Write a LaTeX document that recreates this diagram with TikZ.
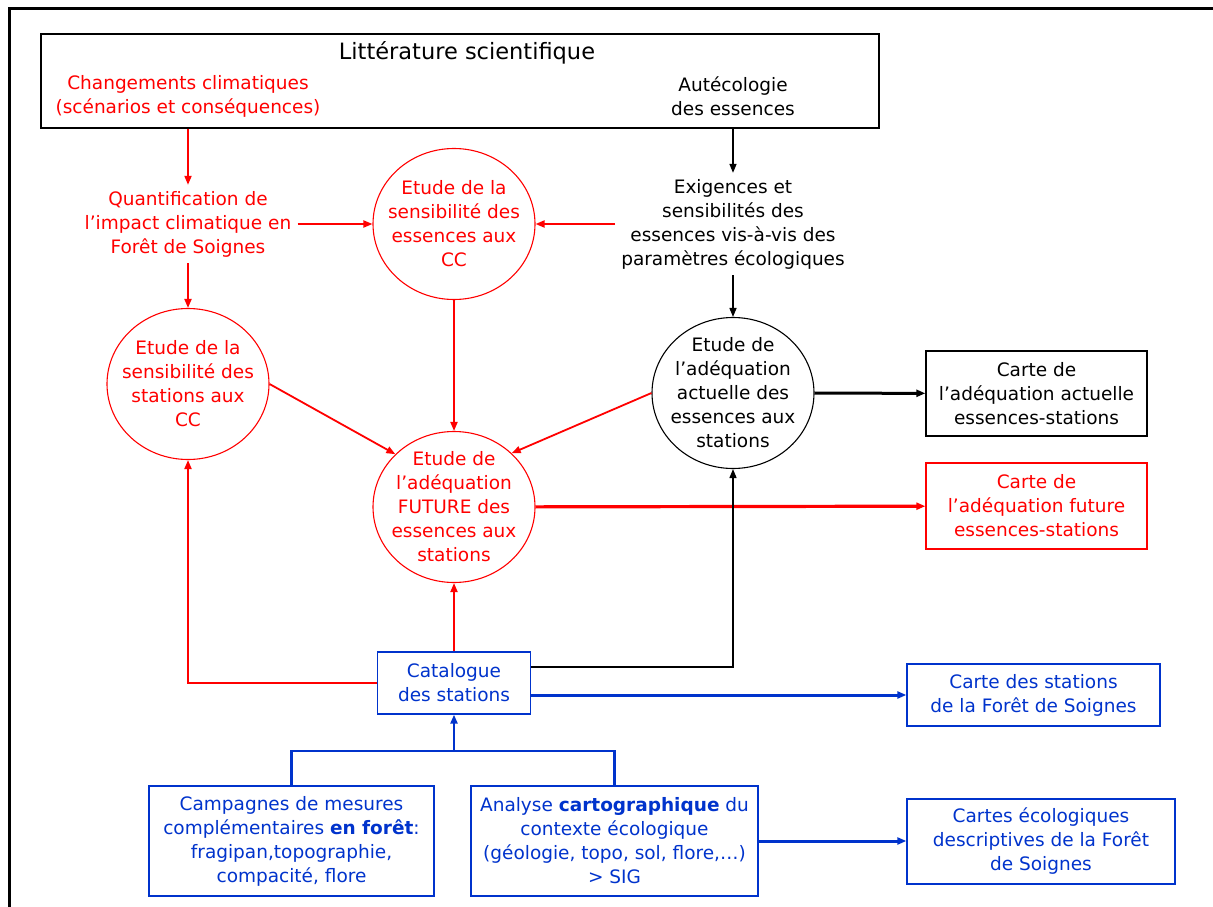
\documentclass[tikz,border=0pt]{standalone}
\usepackage{fontspec}
\setmainfont{DejaVu Sans}
\usetikzlibrary{arrows.meta,shapes.geometric}
\definecolor{cred}{RGB}{255,0,0}
\definecolor{cblue}{RGB}{0,51,204}
\begin{document}
\begin{tikzpicture}[x=1pt,y=-1pt,
  txt/.style={font=\fontsize{18.5}{24}\selectfont, align=center, inner sep=6pt},
  ttl/.style={font=\fontsize{22.5}{26}\selectfont, inner sep=0pt},
  boxk/.style={txt, draw=black, line width=1.3pt, rectangle},
  circ/.style={shape=ellipse, draw, line width=1.1pt, minimum width=162pt, minimum height=151pt, inner sep=0pt},
  tip/.style={-{Triangle[length=9pt,width=7pt]}},
  rarr/.style={tip, draw=cred, line width=1.8pt},
  karr/.style={tip, draw=black, line width=1.5pt},
  rthick/.style={tip, draw=cred, line width=3.2pt},
  kthick/.style={tip, draw=black, line width=3pt},
  bthick/.style={tip, draw=cblue, line width=3pt},
  bline/.style={draw=cblue, line width=2.4pt}
]
\useasboundingbox (0,0) rectangle (1213,907);
\fill[white] (0,0) rectangle (1213,907);
% frame
\coordinate (fr1) at (9,9);
\coordinate (fr2) at (1213,9);
\coordinate (fr3) at (9,907);
\draw[line width=3pt] (fr2) -- (fr1) -- (fr3);

% top box
\node[draw=black, line width=1.3pt, minimum width=838pt, minimum height=94pt, inner sep=0pt] (top) at (460,81) {};
\node[ttl] (lit) at (467,53) {Littérature scientifique};
\node[txt, text=cred] (chg) at (188,96) {Changements climatiques\\(scénarios et conséquences)};
\node[txt] (aut) at (733,96) {Autécologie\\des essences};

% red text / circles
\node[txt, text=cred] (quant) at (188,224) {Quantification de\\l’impact climatique en\\Forêt de Soignes};
\node[txt] (exig) at (733,224) {Exigences et\\sensibilités des\\essences vis-à-vis des\\paramètres écologiques};

\node[circ, draw=cred] (sens) at (454,224) {};
\node[txt, text=cred, inner sep=0pt] (senst) at (sens.center) {Etude de la\\sensibilité des\\essences aux\\CC};
\node[circ, draw=cred] (stc) at (188,384) {};
\node[txt, text=cred, inner sep=0pt] (stct) at (stc.center) {Etude de la\\sensibilité des\\stations aux\\CC};
\node[circ, draw=cred] (fut) at (454,507) {};
\node[txt, text=cred, inner sep=0pt] (futt) at (fut.center) {Etude de\\l’adéquation\\FUTURE des\\essences aux\\stations};
\node[circ, draw=black] (act) at (733,393) {};
\node[txt, inner sep=0pt] (actt) at (act.center) {Etude de\\l’adéquation\\actuelle des\\essences aux\\stations};

% output boxes
\node[boxk, minimum width=221pt, minimum height=85pt, inner sep=0pt] (cact) at (1036.5,393.5) {Carte de\\l’adéquation actuelle\\essences-stations};
\node[boxk, draw=cred, text=cred, minimum width=221pt, minimum height=86pt, inner sep=0pt] (cfut) at (1036.5,506) {Carte de\\l’adéquation future\\essences-stations};
\node[boxk, draw=cblue, text=cblue, minimum width=153pt, minimum height=62pt, inner sep=0pt] (cat) at (454,683) {Catalogue\\des stations};
\node[boxk, draw=cblue, text=cblue, minimum width=253pt, minimum height=62pt, inner sep=0pt] (cst) at (1033.5,695) {Carte des stations\\de la Forêt de Soignes};
\node[boxk, draw=cblue, text=cblue, minimum width=285pt, minimum height=110pt, inner sep=0pt] (b1) at (291.5,841) {Campagnes de mesures\\complémentaires \textbf{en forêt}:\\fragipan,topographie,\\compacité, flore};
\node[boxk, draw=cblue, text=cblue, minimum width=287pt, minimum height=110pt, inner sep=0pt] (b2) at (614.5,841) {Analyse \textbf{cartographique} du\\contexte écologique\\(géologie, topo, sol, flore,…)\\> SIG};
\node[boxk, draw=cblue, text=cblue, minimum width=268pt, minimum height=85pt, inner sep=0pt] (ce) at (1041,841.5) {Cartes écologiques\\descriptives de la Forêt\\de Soignes};

% connectors
\draw[rarr] (top.south -| chg) -- (quant.north);
\draw[rarr] (quant) -- (stc);
\draw[rarr] (quant) -- (sens);
\draw[rarr] (exig) -- (sens);
\draw[karr] (top.south -| aut) -- (exig.north);
\draw[karr] (exig) -- (act);
\draw[rarr] (sens) -- (fut);
\draw[rarr] (stc.east) -- (fut.138);
\draw[rarr] (act.west) -- (fut.43);
\draw[kthick] (act) -- (cact);
\draw[rthick] (fut) -- (cfut);
\draw[rarr] (cat.west) -| (stc.south);
\draw[rarr] (cat) -- (fut);
\draw[karr] ([yshift=16pt]cat.east) -| (act.south);
\draw[bthick] (cst.west -| cat.east) -- (cst.west);
\coordinate (j) at (454,751);
\draw[bline] (b1.north) |- (j) -| (b2.north);
\draw[bline, tip] (j) -- (cat.south);
\draw[bthick] (b2.east) -- (b2.east -| ce.west);
\end{tikzpicture}
\end{document}
